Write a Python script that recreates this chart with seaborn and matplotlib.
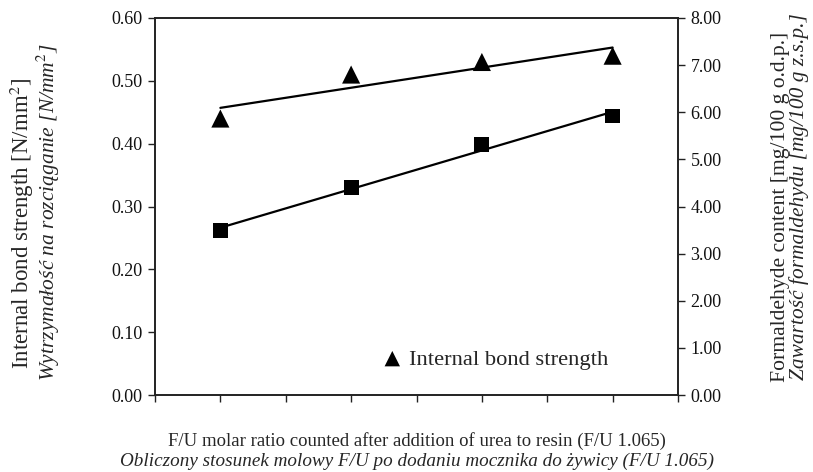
import matplotlib
matplotlib.use("Agg")
import matplotlib.pyplot as plt
import seaborn as sns
import numpy as np
import pandas as pd

# Data
x_pos = [1, 2, 3, 4]
ib_strength = [0.44, 0.51, 0.53, 0.54]          # N/mm2 (left axis)
formaldehyde = [3.49, 4.40, 5.31, 5.92]         # mg/100 g (right axis)
left_ticks = [0.0, 0.1, 0.2, 0.3, 0.4, 0.5, 0.6]
right_ticks = [0, 1, 2, 3, 4, 5, 6, 7, 8]

sns.set_theme(style="ticks")
plt.rcParams['font.family'] = ['Liberation Serif', 'DejaVu Serif']
plt.rcParams['mathtext.fontset'] = 'stix'

df = pd.DataFrame({"x": x_pos, "ib": ib_strength, "fc": formaldehyde})

fig = plt.figure(figsize=(8.13, 4.72), dpi=100)
ax = fig.add_axes([155/813, 1-395/472, (678-155)/813, (395-18)/472])
ax2 = ax.twinx()

sns.regplot(data=df, x="x", y="ib", ax=ax, ci=None, marker="^", color="black",
            scatter_kws={"s": 170, "edgecolors": "none", "alpha": 1, "zorder": 3},
            line_kws={"lw": 1.6})
sns.regplot(data=df, x="x", y="fc", ax=ax2, ci=None, marker="s", color="black",
            scatter_kws={"s": 115, "edgecolors": "none", "alpha": 1, "zorder": 3},
            line_kws={"lw": 1.6})

ax.set_xlim(0.5, 4.5)
ax.set_xticks(np.arange(0.5, 4.51, 0.5))
ax.set_xticklabels([])
ax.set_ylim(0, 0.6)
ax.set_yticks(left_ticks)
ax.set_yticklabels([f"{v:.2f}" for v in left_ticks])
ax2.set_ylim(0, 8)
ax2.set_yticks(right_ticks)
ax2.set_yticklabels([f"{v:.2f}" for v in right_ticks])

for a in (ax, ax2):
    a.tick_params(axis="both", direction="out", length=5, width=1, color="#222222",
                  labelsize=13, pad=4, labelcolor="#111111")
    for s in a.spines.values():
        s.set_linewidth(1.2)
        s.set_color("#222222")
ax.set_xlabel("")
ax.set_ylabel("")
ax2.set_ylabel("")

# left y label (two lines)
fig.text(22/813, 1-223/472, "Internal bond strength [N/mm$^2$]", rotation=90,
         ha="center", va="center", fontsize=16.5)
fig.text(48/813, 1-212/472, "Wytrzymałość na rozciąganie [N/mm$^2$]", rotation=90,
         ha="center", va="center", fontsize=15.5, style="italic")
# right y label
fig.text(780/813, 1-207/472, "Formaldehyde content [mg/100 g o.d.p.]", rotation=90,
         ha="center", va="center", fontsize=15.6)
fig.text(799/813, 1-197/472, "Zawartość formaldehydu [mg/100 g z.s.p.]", rotation=90,
         ha="center", va="center", fontsize=15.4, style="italic")
# x label
fig.text(417/813, 1-441/472, "F/U molar ratio counted after addition of urea to resin (F/U 1.065)",
         ha="center", va="center", fontsize=13.5)
fig.text(417/813, 1-461/472, "Obliczony stosunek molowy F/U po dodaniu mocznika do żywicy (F/U 1.065)",
         ha="center", va="center", fontsize=13.8, style="italic")

# legend (single entry)
h = ax.collections[0]
ax.legend([h], ["Internal bond strength"], loc="center left",
          bbox_to_anchor=(0.415, 0.095), frameon=False, fontsize=16.2,
          handlelength=1.0, handletextpad=0.25, markerscale=0.85, borderaxespad=0)

fig.savefig("out.png", dpi=100)
